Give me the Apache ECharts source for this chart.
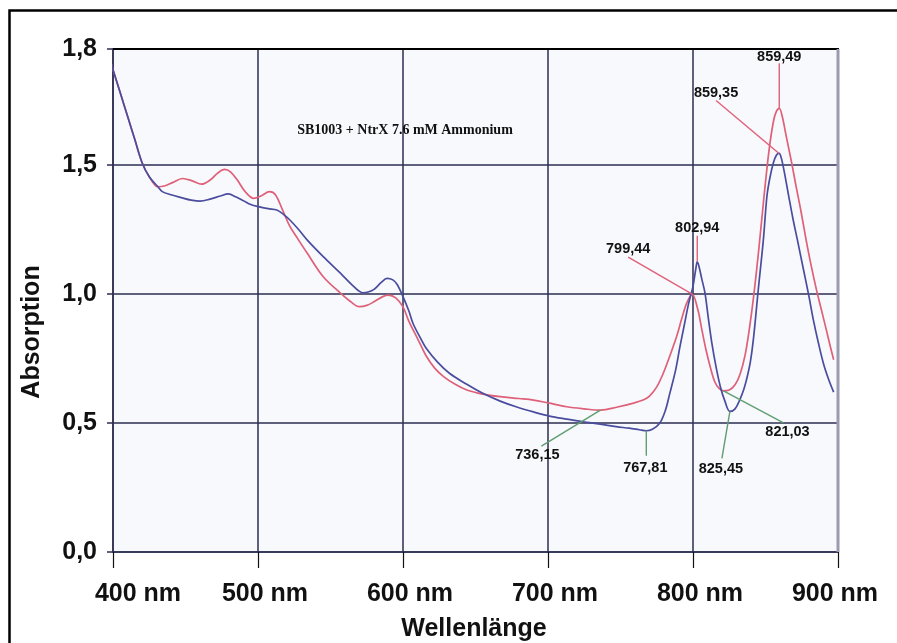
<!DOCTYPE html>
<html>
<head>
<meta charset="utf-8">
<script src="https://cdn.jsdelivr.net/npm/echarts@6/dist/echarts.min.js"></script>
<style>
  html, body { margin: 0; padding: 0; background: #ffffff; }
  #chart { width: 897px; height: 643px; }
</style>
</head>
<body>
<div id="chart"></div>
<script>
// Absorption spectrum, two measurements (nm, absorbance)
const redWavelength = [396, 400, 405, 410, 415, 420, 425, 431, 436, 441, 448, 455, 461, 467, 472, 477, 481, 486, 491, 497,
  502, 508, 512, 517, 522, 527, 534, 545, 557, 564, 570, 575, 580, 586, 590, 595, 600, 604, 608, 612,
  616, 622, 628, 636, 644, 655, 667, 680, 690, 700, 713, 725, 736.15, 748, 759, 766, 770, 775, 779.5, 784,
  788.7, 792, 795.6, 799.44, 803.4, 806, 809, 812, 815, 818, 821.03, 825, 829, 832.5, 836, 839, 842, 845.5,
  849, 852.5, 855.5, 857.5, 859.49, 861.5, 864, 868, 871, 874.5, 878, 881.5, 885, 888.5, 892, 895, 897];
const redAbsorption = [1.945, 1.870, 1.780, 1.690, 1.600, 1.510, 1.455, 1.416, 1.420, 1.432, 1.448, 1.438, 1.426, 1.442, 1.468, 1.483, 1.474, 1.440, 1.398, 1.371,
  1.380, 1.397, 1.385, 1.325, 1.262, 1.218, 1.158, 1.067, 1.003, 0.970, 0.951, 0.956, 0.970, 0.990, 0.996, 0.985, 0.950, 0.895, 0.850, 0.805,
  0.760, 0.712, 0.680, 0.650, 0.628, 0.612, 0.602, 0.595, 0.589, 0.578, 0.563, 0.555, 0.550, 0.562, 0.577, 0.590, 0.604, 0.640, 0.693, 0.760,
  0.835, 0.900, 0.964, 1.000, 0.938, 0.865, 0.783, 0.715, 0.660, 0.634, 0.625, 0.628, 0.648, 0.690, 0.765, 0.870, 1.000, 1.180,
  1.380, 1.560, 1.670, 1.708, 1.720, 1.690, 1.620, 1.510, 1.420, 1.320, 1.210, 1.110, 1.020, 0.940, 0.860, 0.790, 0.745];

const blueWavelength = [396, 400, 405, 410, 415, 420, 425, 431, 434, 440, 447, 454, 460, 467, 474, 479.5, 485, 490, 495, 501,
  507, 513, 518, 522, 528, 534, 545, 557, 565, 572.6, 576, 580, 585, 589, 593, 596, 600, 604, 607, 612,
  616, 624, 632, 644, 655, 667, 678, 690, 701, 713, 724, 736, 747, 756, 763, 767.81, 772, 777, 781, 784,
  788, 791, 794, 797, 800, 802, 802.94, 804, 806, 808.3, 810.5, 813, 816, 819, 822, 825.45, 829, 832.4, 835, 837,
  839.5, 841.6, 845, 848.5, 851, 853, 855.5, 857.5, 859.35, 861, 863.4, 866, 869, 872, 876, 880, 883, 886.5, 890, 893.5, 897];
const blueAbsorption = [1.945, 1.870, 1.780, 1.690, 1.600, 1.510, 1.455, 1.416, 1.397, 1.385, 1.374, 1.364, 1.360, 1.368, 1.380, 1.388, 1.376, 1.362, 1.347, 1.338,
  1.331, 1.326, 1.307, 1.287, 1.250, 1.209, 1.145, 1.080, 1.035, 1.005, 1.008, 1.018, 1.045, 1.061, 1.055, 1.037, 0.990, 0.935, 0.885, 0.830,
  0.790, 0.735, 0.693, 0.650, 0.615, 0.585, 0.563, 0.543, 0.527, 0.515, 0.505, 0.496, 0.486, 0.480, 0.474, 0.470, 0.476, 0.499, 0.550, 0.615,
  0.705, 0.796, 0.880, 0.964, 1.030, 1.100, 1.125, 1.110, 1.060, 1.003, 0.910, 0.810, 0.715, 0.638, 0.585, 0.545, 0.555, 0.592, 0.630, 0.670,
  0.735, 0.822, 1.016, 1.209, 1.380, 1.450, 1.510, 1.538, 1.545, 1.525, 1.460, 1.380, 1.290, 1.210, 1.100, 0.990, 0.900, 0.810, 0.730, 0.670, 0.620];

const xTickLabels = ['400 nm', '500 nm', '600 nm', '700 nm', '800 nm', '900 nm'];
const yTickLabels = ['0,0', '0,5', '1,0', '1,5', '1,8'];
const chartTitle = 'SB1003 + NtrX 7.6 mM Ammonium';
const xAxisTitle = 'Wellenlänge';
const yAxisTitle = 'Absorption';

// Peak and valley positions that get a labelled leader line
const peakWavelengths = [
  { series: 'red', nm: 859.49 },
  { series: 'blue', nm: 859.35 },
  { series: 'blue', nm: 802.94 },
  { series: 'red', nm: 799.44 }
];
const valleyWavelengths = [
  { series: 'red', nm: 736.15 },
  { series: 'blue', nm: 767.81 },
  { series: 'blue', nm: 825.45 },
  { series: 'red', nm: 821.03 }
];

// Label placement for each marker, in screen pixels relative to its point
const peakLayout = [
  { label: [0, -51], end: [0, -45] },
  { label: [-63, -60], end: [-63, -53] },
  { label: [0, -34], end: [0, -26] },
  { label: [-64, -45], end: [-64, -37] }
];
const valleyLayout = [
  { label: [-63, 45], end: [-59, 36] },
  { label: [-1, 37], end: [0, 25] },
  { label: [-9, 58], end: [-8, 47] },
  { label: [64, 41], end: [60, 32] }
];

const RED = '#de6079';
const BLUE = '#4a4c9e';
const GRID = '#2c2e52';
const PEAK_LEADER = '#e0607a';
const VALLEY_LEADER = '#5f9d72';
const SANS = "'Liberation Sans', Arial, Helvetica, sans-serif";

const seriesSource = {
  red: { x: redWavelength, y: redAbsorption },
  blue: { x: blueWavelength, y: blueAbsorption }
};
function pairs(xs, ys) { return xs.map((x, i) => [x, ys[i]]); }
function valueAt(name, nm) {
  const s = seriesSource[name];
  return s.y[s.x.indexOf(nm)];
}

const chart = echarts.init(document.getElementById('chart'), null, { renderer: 'canvas' });

const tickFont = { fontFamily: SANS, fontWeight: 'bold', fontSize: 25, color: '#111111' };

chart.setOption({
  animation: false,
  backgroundColor: '#ffffff',
  grid: {
    left: 113, top: 49, right: 59, bottom: 91,
    show: true, backgroundColor: '#f8f9fc', borderWidth: 0
  },
  xAxis: {
    type: 'value', min: 400, max: 900, interval: 100,
    axisLine: { show: true, lineStyle: { color: GRID, width: 1.5 } },
    axisTick: { show: true, length: 16, lineStyle: { color: '#111111', width: 1.2 } },
    splitLine: { show: true, lineStyle: { color: GRID, width: 1.5 } },
    axisLabel: {
      margin: 30,
      formatter: (v, i) => {
        const key = i === 0 ? 'first' : (i === xTickLabels.length - 1 ? 'last' : 'mid');
        return '{' + key + '|' + xTickLabels[i] + '}';
      },
      rich: {
        first: Object.assign({ padding: [0, 0, 0, 50] }, tickFont),
        mid: Object.assign({ padding: [0, 0, 0, 14] }, tickFont),
        last: Object.assign({ padding: [0, 6, 0, 0] }, tickFont)
      }
    }
  },
  yAxis: {
    type: 'value', min: 0, max: 1.95, interval: 0.5,
    axisLine: { show: true, lineStyle: { color: GRID, width: 1.5 } },
    axisTick: { show: true, length: 6, lineStyle: { color: GRID, width: 1.5 } },
    splitLine: { show: true, lineStyle: { color: GRID, width: 1.5 } },
    axisLabel: Object.assign({
      margin: 16,
      formatter: (v, i) => yTickLabels[i]
    }, tickFont)
  },
  series: [
    {
      name: 'red', type: 'line', data: pairs(redWavelength, redAbsorption),
      smooth: 0.35, showSymbol: false, clip: false,
      lineStyle: { color: RED, width: 1.7 }, z: 3
    },
    {
      name: 'blue', type: 'line', data: pairs(blueWavelength, blueAbsorption),
      smooth: 0.35, showSymbol: false, clip: false,
      lineStyle: { color: BLUE, width: 1.7 }, z: 4
    }
  ]
});

function textEl(x, y, text, font, extra) {
  return Object.assign({
    type: 'text', x: x, y: y, z: 20,
    style: {
      text: text, font: font, fill: '#111111',
      align: 'center', verticalAlign: 'middle',
      textAlign: 'center', textVerticalAlign: 'middle'
    }
  }, extra || {});
}

const elements = [];

// Outer frame
elements.push({
  type: 'rect', z: 1, silent: true,
  shape: { x: 9.5, y: 10.5, width: 1000, height: 1000 },
  style: { fill: null, stroke: '#000000', lineWidth: 2.5 }
});

// Plot border: dark top edge, grey right edge
const topLeft = chart.convertToPixel({ gridIndex: 0 }, [400, 1.95]);
const topRight = chart.convertToPixel({ gridIndex: 0 }, [900, 1.95]);
const bottomRight = chart.convertToPixel({ gridIndex: 0 }, [900, 0]);
elements.push({
  type: 'line', z: 10, silent: true,
  shape: { x1: topLeft[0], y1: topLeft[1], x2: topRight[0] + 1, y2: topRight[1] },
  style: { stroke: '#000000', lineWidth: 2 }
});
elements.push({
  type: 'line', z: 10, silent: true,
  shape: { x1: topRight[0], y1: topRight[1], x2: bottomRight[0], y2: bottomRight[1] },
  style: { stroke: '#9a9ab2', lineWidth: 3 }
});

// Sample title inside the plot
elements.push(textEl(405, 130, chartTitle, "bold 14px 'Liberation Serif', 'Times New Roman', serif"));

// Axis titles
elements.push(textEl(474, 629, xAxisTitle, "bold 25px " + SANS));
elements.push(textEl(32, 332, yAxisTitle, "bold 25px " + SANS, { rotation: Math.PI / 2 }));

// Peak / valley markers with leader lines
const markerFont = "bold 14.5px " + SANS;
function addMarkers(list, layout, color) {
  list.forEach((m, i) => {
    const p = chart.convertToPixel({ gridIndex: 0 }, [m.nm, valueAt(m.series, m.nm)]);
    const lay = layout[i];
    elements.push({
      type: 'line', z: 15, silent: true,
      shape: { x1: p[0], y1: p[1], x2: p[0] + lay.end[0], y2: p[1] + lay.end[1] },
      style: { stroke: color, lineWidth: 1.4 }
    });
    elements.push(textEl(p[0] + lay.label[0], p[1] + lay.label[1],
      m.nm.toFixed(2).replace('.', ','), markerFont));
  });
}
addMarkers(peakWavelengths, peakLayout, PEAK_LEADER);
addMarkers(valleyWavelengths, valleyLayout, VALLEY_LEADER);

chart.setOption({ graphic: { elements: elements } });
</script>
</body>
</html>
